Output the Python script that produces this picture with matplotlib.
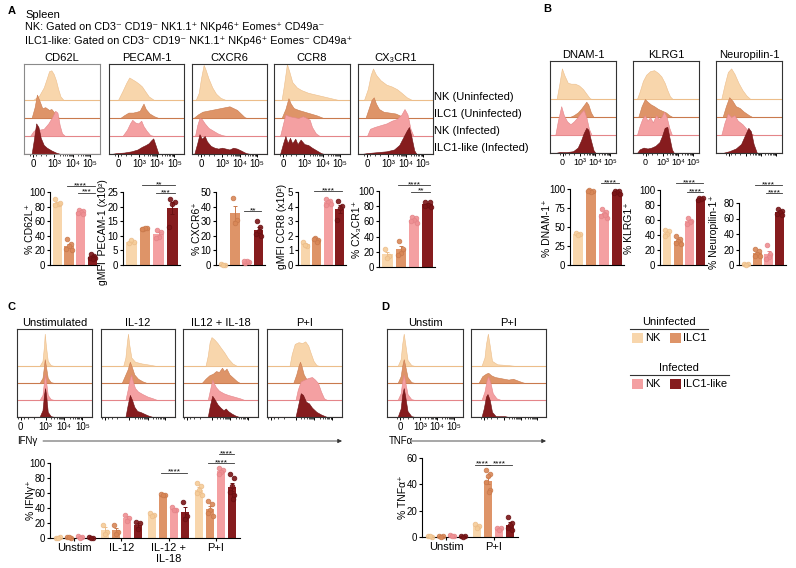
import numpy as np
import matplotlib
matplotlib.use('Agg')
import matplotlib.pyplot as plt
from matplotlib.patches import Rectangle

plt.rcParams['font.family'] = ['Liberation Sans', 'DejaVu Sans']
plt.rcParams['font.size'] = 7.5
plt.rcParams['axes.linewidth'] = 0.8

W, H = 796, 568

# NK (uninfected), ILC1 (uninfected), NK (infected), ILC1-like (infected)
FILL = ['#f8d6ac', '#de9468', '#f4a0a2', '#861c1e']
EDGE = ['#ecbd8a', '#c97a4d', '#e48589', '#6b1012']
DOT = ['#f5cc98', '#d98757', '#ef8f93', '#7a1517']
row_names = ['NK (Uninfected)', 'ILC1 (Uninfected)', 'NK (Infected)', 'ILC1-like (Infected)']

# ---------------- histogram traces: (position across box, height in row units)
cd62l_hist = [
    [(0.12, 0), (0.2, 0.25), (0.26, 0.7), (0.3, 1.2), (0.33, 1.6), (0.36, 1.65), (0.39, 1.45), (0.42, 1.1), (0.45, 0.6), (0.48, 0.2), (0.52, 0)],
    [(0.1, 0), (0.14, 0.6), (0.17, 1.3), (0.2, 1.0), (0.24, 0.55), (0.28, 0.6), (0.33, 0.45), (0.36, 0.5), (0.4, 0.3), (0.44, 0.05), (0.47, 0)],
    [(0.08, 0), (0.12, 0.25), (0.16, 0.4), (0.2, 0.35), (0.26, 0.4), (0.32, 0.7), (0.37, 1.05), (0.41, 1.4), (0.44, 1.3), (0.47, 0.6), (0.5, 0.15), (0.54, 0)],
    [(0.1, 0), (0.13, 0.8), (0.16, 1.7), (0.19, 1.5), (0.22, 0.9), (0.26, 0.5), (0.3, 0.35), (0.36, 0.2), (0.42, 0.08), (0.48, 0)],
]
pecam_hist = [
    [(0.12, 0), (0.18, 0.5), (0.23, 0.95), (0.27, 1.25), (0.31, 1.15), (0.35, 1.05), (0.4, 0.9), (0.44, 0.75), (0.48, 0.5), (0.53, 0.2), (0.6, 0)],
    [(0.15, 0), (0.2, 0.15), (0.26, 0.3), (0.32, 0.3), (0.37, 0.35), (0.41, 0.4), (0.44, 0.65), (0.46, 0.8), (0.49, 0.5), (0.54, 0.25), (0.6, 0.1), (0.66, 0)],
    [(0.18, 0), (0.24, 0.35), (0.28, 0.7), (0.31, 0.9), (0.35, 0.75), (0.39, 0.7), (0.43, 0.85), (0.46, 0.55), (0.5, 0.3), (0.55, 0.05), (0.6, 0)],
    [(0.03, 0), (0.1, 0.05), (0.2, 0.08), (0.3, 0.15), (0.38, 0.25), (0.44, 0.4), (0.49, 0.5), (0.53, 0.6), (0.56, 0.75), (0.59, 0.87), (0.62, 0.5), (0.66, 0)],
]
cxcr6_hist = [
    [(0.05, 0), (0.09, 0.4), (0.12, 1.2), (0.155, 1.95), (0.18, 1.7), (0.22, 1.2), (0.27, 0.7), (0.32, 0.35), (0.38, 0.12), (0.45, 0)],
    [(0.02, 0), (0.08, 0.2), (0.14, 0.35), (0.2, 0.4), (0.26, 0.45), (0.32, 0.5), (0.38, 0.55), (0.44, 0.6), (0.5, 0.65), (0.55, 0.55), (0.6, 0.45), (0.65, 0.25), (0.7, 0.05), (0.73, 0)],
    [(0.04, 0), (0.07, 0.6), (0.1, 1.0), (0.13, 0.95), (0.17, 0.7), (0.22, 0.45), (0.28, 0.3), (0.34, 0.15), (0.4, 0.05), (0.46, 0)],
    [(0.03, 0), (0.07, 0.6), (0.1, 1.1), (0.13, 0.85), (0.17, 1.0), (0.2, 0.7), (0.25, 0.45), (0.3, 0.35), (0.35, 0.3), (0.4, 0.35), (0.45, 0.3), (0.5, 0.25), (0.55, 0.35), (0.6, 0.3), (0.65, 0.2), (0.72, 0.05), (0.78, 0)],
]
ccr8_hist = [
    [(0.1, 0), (0.13, 0.8), (0.17, 2.0), (0.2, 1.6), (0.24, 1.0), (0.3, 0.7), (0.36, 0.55), (0.45, 0.4), (0.55, 0.3), (0.65, 0.2), (0.75, 0.1), (0.85, 0)],
    [(0.1, 0), (0.15, 0.5), (0.19, 1.1), (0.22, 0.8), (0.26, 0.55), (0.32, 0.45), (0.4, 0.35), (0.48, 0.25), (0.56, 0.15), (0.65, 0)],
    [(0.08, 0), (0.12, 0.7), (0.15, 1.2), (0.2, 1.1), (0.26, 1.05), (0.32, 1.0), (0.38, 1.1), (0.43, 1.0), (0.47, 0.9), (0.5, 0.5), (0.55, 0.15), (0.6, 0)],
    [(0.08, 0), (0.12, 0.6), (0.15, 1.0), (0.18, 0.6), (0.21, 0.9), (0.24, 0.6), (0.28, 0.85), (0.31, 0.55), (0.35, 0.8), (0.4, 0.55), (0.45, 0.5), (0.5, 0.35), (0.56, 0.2), (0.62, 0.05), (0.66, 0)],
]
cx3cr1_hist = [
    [(0.08, 0), (0.13, 0.6), (0.17, 1.4), (0.2, 1.75), (0.24, 1.4), (0.3, 1.1), (0.38, 0.85), (0.45, 0.75), (0.52, 0.6), (0.58, 0.4), (0.65, 0.15), (0.72, 0)],
    [(0.1, 0), (0.14, 0.5), (0.18, 1.0), (0.21, 1.15), (0.24, 0.8), (0.28, 0.5), (0.34, 0.35), (0.42, 0.3), (0.5, 0.25), (0.58, 0.1), (0.65, 0)],
    [(0.12, 0), (0.16, 0.4), (0.22, 0.5), (0.3, 0.6), (0.38, 0.7), (0.45, 0.85), (0.52, 0.95), (0.58, 1.2), (0.62, 1.5), (0.66, 1.2), (0.7, 0.4), (0.74, 0)],
    [(0.05, 0), (0.12, 0.05), (0.25, 0.1), (0.38, 0.15), (0.48, 0.25), (0.55, 0.5), (0.6, 0.9), (0.65, 1.3), (0.68, 1.5), (0.71, 1.0), (0.75, 0.2), (0.78, 0)],
]
dnam1_hist = [
    [(0.1, 0), (0.14, 0.8), (0.18, 1.7), (0.22, 1.3), (0.27, 0.9), (0.32, 0.85), (0.38, 0.85), (0.44, 0.75), (0.5, 0.55), (0.55, 0.3), (0.6, 0.05), (0.63, 0)],
    [(0.3, 0), (0.36, 0.1), (0.42, 0.25), (0.47, 0.45), (0.51, 0.65), (0.55, 0.85), (0.58, 0.7), (0.62, 0.25), (0.66, 0)],
    [(0.08, 0), (0.12, 0.8), (0.17, 1.6), (0.21, 1.1), (0.26, 0.75), (0.31, 0.6), (0.36, 0.75), (0.42, 1.0), (0.47, 1.25), (0.51, 1.4), (0.55, 1.0), (0.59, 0.35), (0.63, 0)],
    [(0.08, 0), (0.15, 0.06), (0.25, 0.05), (0.35, 0.1), (0.42, 0.3), (0.47, 0.7), (0.51, 1.1), (0.55, 1.4), (0.58, 1.3), (0.62, 0.7), (0.66, 0.15), (0.69, 0)],
]
klrg1_hist = [
    [(0.06, 0), (0.1, 0.4), (0.15, 1.0), (0.2, 1.35), (0.26, 1.55), (0.32, 1.6), (0.38, 1.45), (0.43, 1.25), (0.48, 0.9), (0.52, 0.5), (0.56, 0.15), (0.6, 0)],
    [(0.08, 0), (0.13, 0.6), (0.18, 1.0), (0.22, 0.85), (0.27, 0.7), (0.32, 0.6), (0.38, 0.45), (0.44, 0.35), (0.5, 0.25), (0.55, 0.1), (0.6, 0)],
    [(0.06, 0), (0.1, 0.5), (0.14, 0.9), (0.18, 1.1), (0.22, 0.8), (0.26, 1.0), (0.3, 0.7), (0.35, 1.1), (0.39, 0.9), (0.43, 1.0), (0.47, 1.3), (0.51, 1.0), (0.55, 0.4), (0.59, 0)],
    [(0.06, 0), (0.1, 0.2), (0.16, 0.3), (0.22, 0.25), (0.28, 0.3), (0.34, 0.4), (0.4, 0.6), (0.44, 0.95), (0.48, 1.4), (0.52, 1.45), (0.55, 0.9), (0.59, 0.2), (0.62, 0)],
]
nrp1_hist = [
    [(0.08, 0), (0.13, 0.8), (0.18, 1.5), (0.23, 1.7), (0.28, 1.4), (0.34, 0.9), (0.4, 0.5), (0.46, 0.2), (0.52, 0)],
    [(0.1, 0), (0.15, 0.6), (0.2, 1.1), (0.25, 0.9), (0.3, 0.6), (0.36, 0.5), (0.42, 0.3), (0.5, 0.1), (0.55, 0)],
    [(0.08, 0), (0.13, 0.7), (0.18, 1.2), (0.23, 1.0), (0.28, 1.1), (0.33, 0.8), (0.4, 0.6), (0.46, 0.35), (0.52, 0.1), (0.58, 0)],
    [(0.1, 0), (0.2, 0.1), (0.3, 0.25), (0.38, 0.5), (0.44, 1.0), (0.49, 1.4), (0.53, 1.2), (0.57, 0.5), (0.62, 0)],
]
ifng_unstim_hist = [
    [(0.3, 0), (0.34, 0.3), (0.36, 1.2), (0.37, 1.9), (0.385, 1.2), (0.41, 0.3), (0.45, 0.05), (0.5, 0)],
    [(0.3, 0), (0.34, 0.3), (0.36, 1.0), (0.37, 1.4), (0.385, 1.0), (0.41, 0.3), (0.45, 0.05), (0.5, 0)],
    [(0.3, 0), (0.34, 0.3), (0.36, 1.1), (0.375, 1.5), (0.39, 1.0), (0.41, 0.3), (0.45, 0.05), (0.5, 0)],
    [(0.3, 0), (0.34, 0.4), (0.36, 1.3), (0.375, 1.7), (0.39, 1.2), (0.41, 0.3), (0.45, 0.05), (0.5, 0)],
]
ifng_il12_hist = [
    [(0.3, 0), (0.33, 0.5), (0.35, 1.4), (0.365, 1.9), (0.38, 1.3), (0.41, 0.5), (0.46, 0.25), (0.55, 0.15), (0.65, 0.08), (0.75, 0)],
    [(0.28, 0), (0.32, 0.4), (0.36, 0.8), (0.39, 1.25), (0.42, 0.9), (0.45, 0.5), (0.5, 0.25), (0.56, 0.1), (0.62, 0)],
    [(0.33, 0), (0.36, 0.6), (0.39, 1.3), (0.41, 1.5), (0.43, 1.1), (0.46, 0.7), (0.5, 0.5), (0.56, 0.35), (0.63, 0.2), (0.7, 0.1), (0.76, 0)],
    [(0.33, 0), (0.36, 0.7), (0.39, 1.3), (0.42, 1.0), (0.45, 0.6), (0.49, 0.35), (0.53, 0.3), (0.58, 0.2), (0.63, 0.1), (0.7, 0)],
]
ifng_il1218_hist = [
    [(0.3, 0), (0.33, 0.6), (0.355, 1.4), (0.38, 1.7), (0.42, 1.55), (0.46, 1.35), (0.5, 1.1), (0.55, 0.8), (0.6, 0.45), (0.66, 0.15), (0.72, 0)],
    [(0.25, 0), (0.3, 0.25), (0.35, 0.45), (0.4, 0.55), (0.44, 0.7), (0.48, 0.65), (0.52, 0.9), (0.55, 0.7), (0.58, 0.85), (0.62, 0.5), (0.67, 0.3), (0.72, 0.1), (0.76, 0)],
    [(0.33, 0), (0.36, 0.6), (0.39, 1.2), (0.41, 1.0), (0.44, 0.75), (0.48, 0.55), (0.54, 0.4), (0.6, 0.3), (0.68, 0.2), (0.76, 0.1), (0.82, 0)],
    [(0.33, 0), (0.36, 0.7), (0.39, 1.25), (0.42, 1.05), (0.46, 0.75), (0.5, 0.55), (0.54, 0.4), (0.57, 0.5), (0.6, 0.35), (0.65, 0.2), (0.7, 0.08), (0.75, 0)],
]
ifng_pi_hist = [
    [(0.3, 0), (0.33, 0.7), (0.37, 1.3), (0.42, 1.4), (0.47, 1.35), (0.51, 1.45), (0.55, 1.2), (0.58, 0.8), (0.62, 0.3), (0.66, 0.05), (0.7, 0)],
    [(0.35, 0), (0.39, 0.5), (0.42, 1.0), (0.44, 1.25), (0.46, 1.0), (0.49, 0.5), (0.53, 0.2), (0.6, 0.05), (0.65, 0)],
    [(0.38, 0), (0.41, 0.6), (0.45, 1.1), (0.5, 1.2), (0.55, 1.3), (0.6, 1.35), (0.64, 1.2), (0.68, 1.0), (0.72, 0.5), (0.76, 0.1), (0.8, 0)],
    [(0.38, 0), (0.42, 0.8), (0.45, 1.4), (0.48, 1.3), (0.52, 0.9), (0.56, 0.8), (0.6, 0.55), (0.66, 0.3), (0.72, 0.15), (0.8, 0)],
]
tnfa_unstim_hist = [
    [(0.14, 0), (0.18, 0.4), (0.2, 1.3), (0.22, 1.9), (0.24, 1.3), (0.27, 0.35), (0.32, 0.05), (0.37, 0)],
    [(0.14, 0), (0.18, 0.4), (0.2, 1.0), (0.22, 1.4), (0.24, 1.0), (0.27, 0.35), (0.32, 0.05), (0.37, 0)],
    [(0.14, 0), (0.18, 0.4), (0.2, 1.1), (0.22, 1.5), (0.24, 1.05), (0.27, 0.35), (0.32, 0.05), (0.37, 0)],
    [(0.14, 0), (0.18, 0.5), (0.2, 1.3), (0.22, 1.7), (0.24, 1.2), (0.27, 0.35), (0.32, 0.05), (0.37, 0)],
]
tnfa_pi_hist = [
    [(0.14, 0), (0.18, 0.5), (0.2, 1.3), (0.225, 1.9), (0.25, 1.2), (0.28, 0.3), (0.35, 0.1), (0.5, 0.05), (0.6, 0)],
    [(0.1, 0), (0.15, 0.4), (0.2, 0.55), (0.23, 0.6), (0.27, 0.45), (0.32, 0.35), (0.38, 0.3), (0.44, 0.25), (0.5, 0.2), (0.56, 0.25), (0.62, 0.15), (0.68, 0.05), (0.72, 0)],
    [(0.14, 0), (0.18, 0.5), (0.21, 1.2), (0.23, 1.4), (0.26, 1.0), (0.29, 0.4), (0.34, 0.1), (0.4, 0)],
    [(0.14, 0), (0.17, 0.5), (0.2, 1.2), (0.22, 1.35), (0.25, 1.0), (0.28, 0.3), (0.33, 0.05), (0.45, 0.05), (0.5, 0)],
]

hist_tick_labels = ['0', '10³', '10⁴', '10⁵']

# ---------------- bar chart values (individual mice, per group)
cd62l_pts = [[90, 84, 83, 82, 85], [36, 29, 26, 22, 20], [76, 74, 72, 71, 70], [15, 13, 11, 10, 9, 8]]
pecam_pts = [[7.6, 8.0, 8.4], [12.4, 12.6, 12.8, 12.5], [12.0, 11.4, 9.5, 9.3], [22.5, 21.5, 21.0, 13.0]]
cxcr6_pts = [[0.5, 0.3, 0.2], [46, 31, 29], [1.5, 2.0, 2.5, 3.0], [30, 26, 23, 21, 20]]
ccr8_pts = [[1.6, 1.3, 1.35], [1.85, 1.7, 1.6, 1.75], [4.5, 4.4, 4.3, 4.1, 4.2], [4.35, 4.05, 3.9, 3.1]]
cx3cr1_pts = [[24, 14, 12], [34, 24, 19, 16], [66, 65, 62, 60, 58], [86, 85, 82, 80, 79]]
dnam1_pts = [[42, 41, 40], [99, 98, 96, 97], [74, 70, 67, 64, 62, 66], [98, 97, 96, 95, 94]]
klrg1_pts = [[47, 45, 42, 39], [39, 35, 32, 29, 28], [63, 59, 57, 55], [90, 89, 88, 87]]
nrp1_pts = [[1.5, 1.0, 0.5], [21, 18, 14, 12, 11], [26, 14, 10, 8], [72, 70, 68, 66, 64]]

ifng_labels = ['Unstim', 'IL-12', 'IL-12 +\nIL-18', 'P+I']
ifng_pts = [
    [[0.5, 1, 0.3], [1, 0.5, 0.8], [2.5, 1.5, 0.5], [0.8, 0.5, 0.3]],
    [[18, 8, 5], [17, 8, 6], [31, 27, 23], [21, 20, 12]],
    [[33, 31, 29], [59, 58, 57], [41, 38, 37], [48, 30, 25]],
    [[73, 69, 64, 60, 57], [49, 45, 38, 33, 30], [93, 91, 88, 86], [86, 80, 70, 62, 57, 52]],
]
tnfa_labels = ['Unstim', 'P+I']
tnfa_pts = [
    [[0.5, 0.3, 0.8], [0.5, 0.8, 0.3], [1.2, 0.8, 0.5], [0.8, 0.5, 0.3]],
    [[10, 8.5, 7], [51, 48, 46, 42, 36, 34], [7, 6.5, 5.5], [15, 11, 9, 7, 5]],
]

DOT_DX = [-0.16, 0.16, 0.0, -0.22, 0.22, 0.06]

fig = plt.figure(figsize=(W / 100, H / 100), dpi=100)
ov = fig.add_axes([0, 0, 1, 1])
ov.set_xlim(0, W)
ov.set_ylim(H, 0)
ov.axis('off')


def px_axes(x0, y0, x1, y1):
    ax = fig.add_axes([x0 / W, 1 - y1 / H, (x1 - x0) / W, (y1 - y0) / H])
    ax.set_facecolor('none')
    return ax


def draw_hist(box, title, curves, ticks, labels=True, row_px=18, frame='#333333', lsize=7):
    x0, y0, x1, y1 = box
    ax = px_axes(x0, y0, x1, y1)
    ax.set_xlim(0, 1)
    ax.set_ylim(0, (y1 - y0) / row_px)
    for i, c in enumerate(curves):
        base = 3 - i
        xs = [p[0] for p in c]
        hs = np.array([p[1] for p in c])
        ax.axhline(base, color=EDGE[i], lw=0.8, zorder=2 * i + 1)
        ax.fill_between(xs, base, base + hs, facecolor=FILL[i], edgecolor=EDGE[i], lw=0.4, zorder=2 * i + 2)
    for s in ax.spines.values():
        s.set_color(frame)
        s.set_linewidth(0.8)
        s.set_zorder(20)
    ax.set_yticks([])
    ax.set_xticks(ticks)
    ax.set_xticklabels(hist_tick_labels if labels else [])
    minors = []
    for a, b in zip(ticks[1:-1], ticks[2:]):
        minors += [a + (b - a) * np.log10(k) for k in range(2, 10)]
    minors += [ticks[0] - 0.04, ticks[0] + 0.04, ticks[0] + 0.1, ticks[0] + 0.17]
    ax.set_xticks(minors, minor=True)
    ax.tick_params(axis='x', which='major', length=2.2, width=0.7, pad=1.5, labelsize=lsize)
    ax.tick_params(axis='x', which='minor', length=1.2, width=0.5)
    if title:
        ax.set_title(title, fontsize=8, pad=2.5)
    return ax


def sig(ax, xa, xb, y, txt='****'):
    ax.plot([xa - 0.2, xb + 0.2], [y, y], color='#333333', lw=0.6, clip_on=False)
    ax.annotate(txt, ((xa + xb) / 2, y), xytext=(0, -2.2), textcoords='offset points',
                ha='center', va='bottom', fontsize=6, annotation_clip=False)


def draw_bars(box, pts_groups, xpos, ymax, ystep, xlim, colour_idx):
    x0, y0, x1, y1 = box
    ax = px_axes(x0, y0, x1, y1)
    for x, pts, ci in zip(xpos, pts_groups, colour_idx):
        pts = np.array(pts, dtype=float)
        m = pts.mean()
        e = pts.std(ddof=1) / np.sqrt(len(pts))
        ax.bar(x, m, width=0.78, color=FILL[ci], zorder=2)
        ax.errorbar(x, m, yerr=e, color=EDGE[ci], lw=0.7, capsize=1.6, capthick=0.7, zorder=3)
        ax.scatter(x + np.array(DOT_DX[:len(pts)]), pts, s=11, facecolor=DOT[ci], edgecolor=EDGE[ci],
                   linewidth=0.6, alpha=0.9, zorder=4, clip_on=False)
    ax.set_xlim(*xlim)
    ax.set_ylim(0, ymax)
    ax.set_yticks(np.arange(0, ymax + ystep / 2, ystep))
    for s in ['top', 'right']:
        ax.spines[s].set_visible(False)
    ax.tick_params(axis='y', length=2.5, width=0.8, pad=0.8, labelsize=7)
    ax.set_xticks([])
    return ax


# ---------------- panel A
a_boxes = [(24, 64, 100, 154), (109, 64, 184, 154), (192, 64, 267, 154), (274, 64, 350, 154), (358, 64, 433, 154)]
a_titles = ['CD62L', 'PECAM-1', 'CXCR6', 'CCR8', 'CX₃CR1']
a_hists = [cd62l_hist, pecam_hist, cxcr6_hist, ccr8_hist, cx3cr1_hist]
A_TICKS = [0.12, 0.4, 0.64, 0.87]
for i, (b, t, c) in enumerate(zip(a_boxes, a_titles, a_hists)):
    draw_hist(b, t, c, A_TICKS, frame='#8a8a8a' if i == 0 else '#333333')

for name, yy in zip(row_names, [97, 114, 131, 148]):
    ov.text(434, yy, name, ha='left', va='center', fontsize=8)

four = [0, 1, 2, 3]
lim4 = (-0.62, 3.55)
ax = draw_bars((50, 192, 99, 265), cd62l_pts, four, 100, 20, lim4, four)
sig(ax, 1, 3, 108)
sig(ax, 2, 3, 99, '***')
ax = draw_bars((123, 192, 180, 265), pecam_pts, four, 25, 5, lim4, four)
sig(ax, 1, 3, 27.3, '**')
sig(ax, 2, 3, 24.6, '***')
ax = draw_bars((216, 192, 265, 265), cxcr6_pts, four, 50, 10, lim4, four)
sig(ax, 2, 3, 37, '**')
ax = draw_bars((298, 192, 346, 265), ccr8_pts, four, 5, 1, lim4, four)
sig(ax, 1, 3, 5.05)
ax = draw_bars((379, 191, 435, 267), cx3cr1_pts, four, 100, 20, lim4, four)
sig(ax, 1, 3, 108)
sig(ax, 2, 3, 99, '**')

ov.text(30, 229, '% CD62L⁺', rotation=90, ha='center', va='center')
ov.text(103, 232, 'gMFI  PECAM-1 (x10²)', rotation=90, ha='center', va='center')
ov.text(197, 229, '% CXCR6⁺', rotation=90, ha='center', va='center')
ov.text(282, 226, 'gMFI CCR8 (x10²)', rotation=90, ha='center', va='center')
ov.text(357, 229, '% CX₃CR1⁺', rotation=90, ha='center', va='center')

# ---------------- panel B
b_boxes = [(550, 61, 616, 153), (633, 61, 699, 153), (716, 61, 782, 153)]
b_titles = ['DNAM-1', 'KLRG1', 'Neuropilin-1']
b_hists = [dnam1_hist, klrg1_hist, nrp1_hist]
B_TICKS = [0.19, 0.45, 0.68, 0.91]
for i, (b, t, c) in enumerate(zip(b_boxes, b_titles, b_hists)):
    draw_hist(b, t, c, B_TICKS, labels=(i < 2), lsize=6.5)

ax = draw_bars((570, 189, 624, 265), dnam1_pts, four, 100, 25, lim4, four)
sig(ax, 2, 3, 108)
ax = draw_bars((660, 190, 707, 265), klrg1_pts, four, 100, 20, lim4, four)
sig(ax, 1, 3, 109)
sig(ax, 2, 3, 97)
ax = draw_bars((739, 203, 786, 265), nrp1_pts, four, 80, 20, lim4, four)
sig(ax, 1, 3, 103)
sig(ax, 2, 3, 93)

ov.text(547, 228, '% DNAM-1⁺', rotation=90, ha='center', va='center')
ov.text(629, 228, '% KLRG1⁺', rotation=90, ha='center', va='center')
ov.text(714, 232, '% Neuropilin-1⁺', rotation=90, ha='center', va='center')

# ---------------- panel C
c_boxes = [(17, 329, 92, 417), (101, 329, 175, 417), (183, 329, 258, 417), (267, 329, 342, 417)]
c_titles = ['Unstimulated', 'IL-12', 'IL12 + IL-18', 'P+I']
c_hists = [ifng_unstim_hist, ifng_il12_hist, ifng_il1218_hist, ifng_pi_hist]
for i, (b, t, c) in enumerate(zip(c_boxes, c_titles, c_hists)):
    draw_hist(b, t, c, [0.05, 0.38, 0.63, 0.87], labels=(i == 0), row_px=17)

GAP = 4.3
xs_c, pts_c, ci_c = [], [], []
for g, grp in enumerate(ifng_pts):
    for j, p in enumerate(grp):
        xs_c.append(g * GAP + j - 1.5)
        pts_c.append(p)
        ci_c.append(j)
ax = draw_bars((50, 463, 240, 538), pts_c, xs_c, 100, 20, (-2.23, 3 * GAP + 2.23), ci_c)
ax.set_xticks([g * GAP for g in range(4)])
ax.set_xticklabels(ifng_labels, fontsize=8, va='top', linespacing=1.1)
ax.tick_params(axis='x', length=2, width=0.8, pad=1.5)
sig(ax, 2 * GAP - 0.5, 2 * GAP + 1.5, 87)
sig(ax, 3 * GAP - 0.5, 3 * GAP + 1.5, 100)
sig(ax, 3 * GAP + 0.5, 3 * GAP + 1.5, 112)
ov.text(31, 500, '% IFNγ⁺', rotation=90, ha='center', va='center')

ov.text(17, 441, 'IFNγ', ha='left', va='center', fontsize=7)
ov.annotate('', xy=(342, 441), xytext=(43, 441),
            arrowprops=dict(arrowstyle='-|>', lw=0.6, color='#333333', mutation_scale=6, shrinkA=0, shrinkB=0))

# ---------------- panel D
d_boxes = [(387, 329, 463, 417), (471, 329, 546, 417)]
d_titles = ['Unstim', 'P+I']
d_hists = [tnfa_unstim_hist, tnfa_pi_hist]
for i, (b, t, c) in enumerate(zip(d_boxes, d_titles, d_hists)):
    draw_hist(b, t, c, [0.17, 0.44, 0.66, 0.88], labels=(i == 0), row_px=17)

xs_d, pts_d, ci_d = [], [], []
for g, grp in enumerate(tnfa_pts):
    for j, p in enumerate(grp):
        xs_d.append(g * GAP + j - 1.5)
        pts_d.append(p)
        ci_d.append(j)
ax = draw_bars((422, 458, 518, 537), pts_d, xs_d, 60, 20, (-2.23, GAP + 2.23), ci_d)
ax.set_xticks([0, GAP])
ax.set_xticklabels(tnfa_labels, fontsize=8)
ax.tick_params(axis='x', length=2, width=0.8, pad=1.5)
sig(ax, GAP - 1.5, GAP - 0.5, 55)
sig(ax, GAP - 0.5, GAP + 1.5, 55)
ov.text(403, 497, '% TNFα⁺', rotation=90, ha='center', va='center')

ov.text(389, 441, 'TNFα', ha='left', va='center', fontsize=7)
ov.annotate('', xy=(546, 441), xytext=(412, 441),
            arrowprops=dict(arrowstyle='-|>', lw=0.6, color='#333333', mutation_scale=6, shrinkA=0, shrinkB=0))

# ---------------- legend (bottom right)
ov.text(669, 322, 'Uninfected', ha='center', va='center', fontsize=8)
ov.plot([630, 708], [329, 329], color='#333333', lw=0.8)
ov.text(679, 368, 'Infected', ha='center', va='center', fontsize=8)
ov.plot([630, 729], [375, 375], color='#333333', lw=0.8)
for yc, items in [(338, [(0, 'NK'), (1, 'ILC1')]), (384, [(2, 'NK'), (3, 'ILC1-like')])]:
    for (ci, lab), xp in zip(items, [632, 670]):
        ov.add_patch(Rectangle((xp, yc - 5), 11, 10, facecolor=FILL[ci], edgecolor='none'))
        ov.text(xp + 13, yc, lab, ha='left', va='center', fontsize=8)

# ---------------- header and panel letters
ov.text(25, 15, 'Spleen', ha='left', va='center', fontsize=8)
ov.text(25, 27, 'NK: Gated on CD3⁻ CD19⁻ NK1.1⁺ NKp46⁺ Eomes⁺ CD49a⁻', ha='left', va='center', fontsize=7.8)
ov.text(25, 41, 'ILC1-like: Gated on CD3⁻ CD19⁻ NK1.1⁺ NKp46⁺ Eomes⁻ CD49a⁺', ha='left', va='center', fontsize=7.8)
for lab, x, y in [('A', 8, 11), ('B', 543, 9), ('C', 8, 307), ('D', 381, 307)]:
    ov.text(x, y, lab, ha='left', va='center', fontsize=8, fontweight='bold')

fig.savefig('out.png', dpi=100)
